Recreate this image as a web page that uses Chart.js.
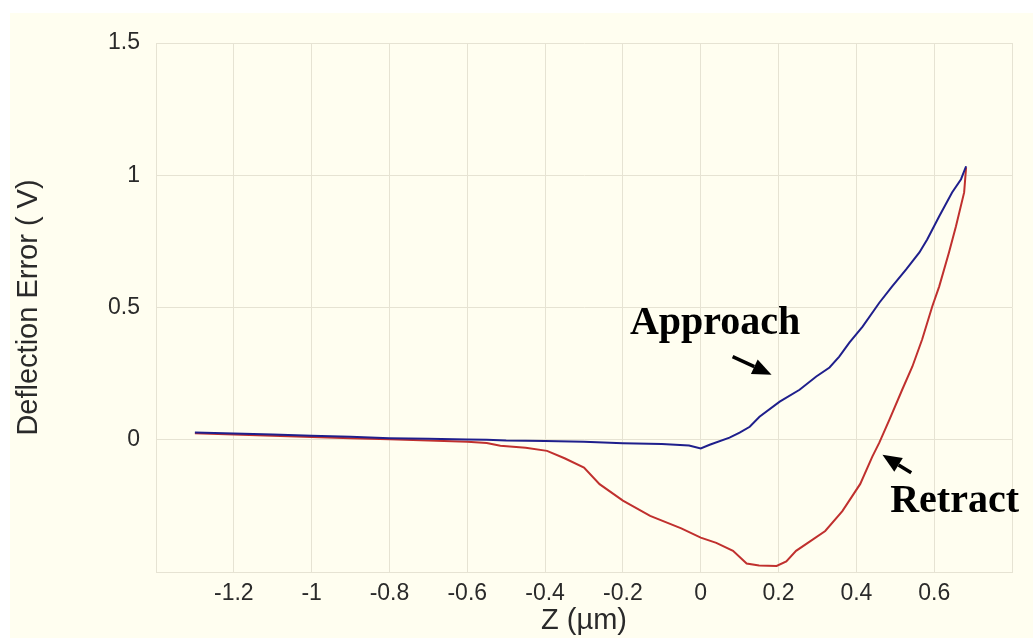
<!DOCTYPE html>
<html>
<head>
<meta charset="utf-8">
<title>Deflection Error vs Z</title>
<script src="https://cdn.jsdelivr.net/npm/chart.js@4/dist/chart.umd.min.js"></script>
<style>
  html, body { margin: 0; padding: 0; background: #ffffff; }
  #wrap { width: 1033px; height: 638px; }
</style>
</head>
<body>
<div id="wrap"><canvas id="curve" width="1033" height="638"></canvas></div>
<script>
// ----------------------------
// DATA
// ----------------------------
const approachZ = [-1.3, -1.2, -1.1, -1.0, -0.9, -0.8, -0.7, -0.6, -0.55, -0.5, -0.4, -0.3, -0.2, -0.1, -0.03, 0, 0.023, 0.074, 0.1, 0.126, 0.151, 0.203, 0.254, 0.297, 0.331, 0.356, 0.382, 0.416, 0.459, 0.492, 0.528, 0.562, 0.582, 0.613, 0.646, 0.669, 0.682];
const approachV = [0.027, 0.024, 0.02, 0.015, 0.011, 0.006, 0.004, 0.001, 0.0, -0.003, -0.005, -0.008, -0.013, -0.016, -0.022, -0.033, -0.019, 0.008, 0.027, 0.049, 0.087, 0.144, 0.189, 0.239, 0.273, 0.314, 0.367, 0.428, 0.518, 0.58, 0.644, 0.708, 0.757, 0.845, 0.935, 0.985, 1.034];

const retractZ = [0.682, 0.677, 0.656, 0.638, 0.613, 0.595, 0.569, 0.544, 0.518, 0.485, 0.459, 0.441, 0.41, 0.364, 0.32, 0.28, 0.245, 0.22, 0.195, 0.15, 0.118, 0.083, 0.04, 0, -0.05, -0.13, -0.2, -0.26, -0.3, -0.35, -0.395, -0.45, -0.515, -0.55, -0.6, -0.7, -0.8, -0.9, -1.0, -1.1, -1.2, -1.3];
const retractV = [1.03, 0.935, 0.807, 0.708, 0.58, 0.504, 0.379, 0.277, 0.19, 0.076, -0.011, -0.064, -0.167, -0.27, -0.345, -0.385, -0.42, -0.46, -0.477, -0.475, -0.468, -0.42, -0.39, -0.37, -0.335, -0.288, -0.23, -0.168, -0.105, -0.07, -0.042, -0.03, -0.023, -0.012, -0.008, -0.003, 0.002, 0.006, 0.01, 0.015, 0.02, 0.025];

const xTicks = [-1.4, -1.2, -1, -0.8, -0.6, -0.4, -0.2, 0, 0.2, 0.4, 0.6, 0.8];
const xTickLabels = ["", "-1.2", "-1", "-0.8", "-0.6", "-0.4", "-0.2", "0", "0.2", "0.4", "0.6", ""];
const yTicks = [-0.5, 0, 0.5, 1, 1.5];
const yTickLabels = ["", "0", "0.5", "1", "1.5"];

// ----------------------------
// STYLE
// ----------------------------
const cream = "#fffef0";
const gridColor = "#e6e3d3";
const textColor = "#2a2a2a";
const sansFont = "'Liberation Sans', Arial, sans-serif";
const serifFont = "'Liberation Serif', 'Times New Roman', serif";

// annotations in data units
const notes = [
  { text: "Approach", x: -0.182, y: 0.398, from: [0.082, 0.314], to: [0.182, 0.246] },
  { text: "Retract", x: 0.487, y: -0.273, from: [0.541, -0.125], to: [0.467, -0.057] },
];

function toPoints(xs, ys) {
  return xs.map((x, i) => ({ x: x, y: ys[i] }));
}

// ----------------------------
// PLUGINS
// ----------------------------
const panelBackground = {
  id: "panelBackground",
  beforeDraw(chart) {
    const ctx = chart.ctx;
    ctx.save();
    ctx.fillStyle = "#ffffff";
    ctx.fillRect(0, 0, chart.width, chart.height);
    ctx.fillStyle = cream;
    ctx.fillRect(10, 13, chart.width - 10, chart.height - 13);
    ctx.restore();
  },
};

function drawArrow(ctx, x1, y1, x2, y2) {
  const ang = Math.atan2(y2 - y1, x2 - x1);
  const headLen = 19;
  const headHalf = 8;
  const bx = x2 - headLen * Math.cos(ang);
  const by = y2 - headLen * Math.sin(ang);
  ctx.beginPath();
  ctx.moveTo(x1, y1);
  ctx.lineTo(bx, by);
  ctx.lineWidth = 3.5;
  ctx.strokeStyle = "#000";
  ctx.stroke();
  ctx.beginPath();
  ctx.moveTo(x2, y2);
  ctx.lineTo(bx + headHalf * Math.sin(ang), by - headHalf * Math.cos(ang));
  ctx.lineTo(bx - headHalf * Math.sin(ang), by + headHalf * Math.cos(ang));
  ctx.closePath();
  ctx.fillStyle = "#000";
  ctx.fill();
}

const annotations = {
  id: "annotations",
  afterDatasetsDraw(chart) {
    const ctx = chart.ctx;
    const sx = chart.scales.x;
    const sy = chart.scales.y;
    ctx.save();
    notes.forEach((n) => {
      ctx.font = "bold 40px " + serifFont;
      ctx.fillStyle = "#000";
      ctx.textAlign = "left";
      ctx.textBaseline = "alphabetic";
      ctx.fillText(n.text, sx.getPixelForValue(n.x), sy.getPixelForValue(n.y));
      drawArrow(
        ctx,
        sx.getPixelForValue(n.from[0]), sy.getPixelForValue(n.from[1]),
        sx.getPixelForValue(n.to[0]), sy.getPixelForValue(n.to[1])
      );
    });
    ctx.restore();
  },
};

// ----------------------------
// CHART
// ----------------------------
const ctx = document.getElementById("curve");
new Chart(ctx, {
  type: "scatter",
  data: {
    datasets: [
      {
        label: "Approach",
        data: toPoints(approachZ, approachV),
        showLine: true,
        borderColor: "#1f1f8c",
        borderWidth: 2,
        pointRadius: 0,
        tension: 0,
      },
      {
        label: "Retract",
        data: toPoints(retractZ, retractV),
        showLine: true,
        borderColor: "#c0302e",
        borderWidth: 2,
        pointRadius: 0,
        tension: 0,
      },
    ],
  },
  options: {
    responsive: false,
    animation: false,
    layout: { padding: { top: 43, right: 21, left: 0, bottom: 0 } },
    plugins: {
      legend: { display: false },
      tooltip: { enabled: false },
    },
    scales: {
      x: {
        type: "linear",
        min: -1.4,
        max: 0.8,
        afterBuildTicks: (s) => { s.ticks = xTicks.map((v) => ({ value: v })); },
        afterFit: (s) => { s.height = 66; },
        grid: { color: gridColor, drawTicks: false, lineWidth: 1 },
        border: { color: gridColor },
        ticks: {
          autoSkip: false,
          maxRotation: 0,
          padding: 8,
          color: textColor,
          font: { family: sansFont, size: 23 },
          callback: (v, i) => xTickLabels[i],
        },
        title: {
          display: true,
          text: "Z (µm)",
          color: textColor,
          font: { family: sansFont, size: 29 },
          padding: { top: 0, bottom: 0 },
        },
      },
      y: {
        type: "linear",
        min: -0.5,
        max: 1.5,
        afterBuildTicks: (s) => { s.ticks = yTicks.map((v) => ({ value: v })); },
        afterFit: (s) => { s.width = 156; },
        grid: { color: gridColor, drawTicks: false, lineWidth: 1 },
        border: { color: gridColor },
        ticks: {
          autoSkip: false,
          padding: 16,
          color: textColor,
          font: { family: sansFont, size: 23 },
          callback: (v, i) => yTickLabels[i],
        },
        title: {
          display: true,
          text: "Deflection Error ( V)",
          color: textColor,
          font: { family: sansFont, size: 29 },
          padding: { top: 12, bottom: 0 },
        },
      },
    },
  },
  plugins: [panelBackground, annotations],
});
</script>
</body>
</html>
